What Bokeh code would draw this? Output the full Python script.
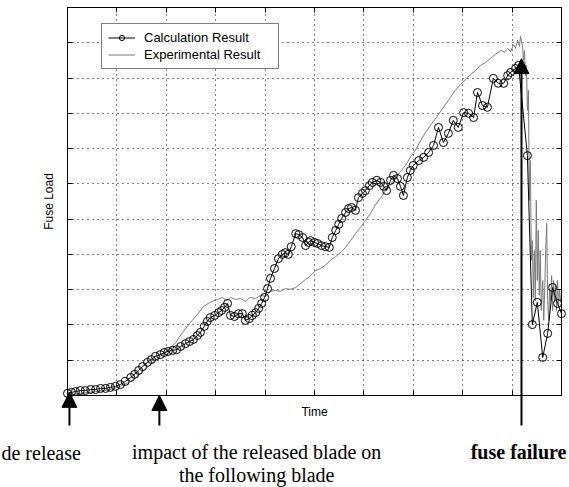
import math
from bokeh.plotting import figure
from bokeh.models import (Range1d, FixedTicker, LinearAxis, Grid, Label, Arrow, NormalHead,
                          Legend, LegendItem)
from bokeh.embed import file_html
from bokeh.resources import INLINE

# ---------------- data ----------------
time_calc = [0.00, 0.08, 0.16, 0.26, 0.36, 0.47, 0.57, 0.67, 0.77, 0.87, 0.97,
             1.07, 1.17, 1.28, 1.36, 1.44, 1.52, 1.62, 1.70, 1.78, 1.88, 1.96, 2.04, 2.13, 2.21,
             2.29, 2.39, 2.47, 2.55, 2.63, 2.69, 2.77, 2.83, 2.89, 2.98, 3.06, 3.12, 3.18, 3.24,
             3.30, 3.38, 3.46, 3.54, 3.60, 3.68, 3.74, 3.81, 3.87, 3.93, 3.99, 4.05, 4.11, 4.19,
             4.27, 4.35, 4.41, 4.47,
             4.53, 4.62, 4.68, 4.76, 4.82, 4.88, 4.92, 5.00, 5.06, 5.14, 5.22, 5.30, 5.36, 5.43,
             5.49, 5.55, 5.63, 5.69, 5.75,
             5.83, 5.89, 5.97, 6.03, 6.11, 6.17, 6.26, 6.34, 6.40, 6.46, 6.54, 6.60, 6.68, 6.74,
             6.80, 6.88, 6.94,
             7.00, 7.11, 7.21, 7.31, 7.41, 7.51, 7.61, 7.71, 7.81, 7.91, 8.02, 8.12, 8.22, 8.30,
             8.40, 8.50, 8.62, 8.72, 8.83, 8.91, 8.97, 9.07, 9.13,
             9.31, 9.41, 9.51, 9.62, 9.72, 9.82, 9.92, 10.00]
load_calc = [0.06, 0.09, 0.11, 0.14, 0.14, 0.17, 0.17, 0.20, 0.20, 0.23, 0.26,
             0.31, 0.40, 0.51, 0.60, 0.71, 0.82, 0.94, 1.02, 1.11, 1.16, 1.22, 1.25, 1.28, 1.30,
             1.39, 1.47, 1.53, 1.59, 1.70, 1.79, 1.96, 2.10, 2.21, 2.27, 2.35, 2.41, 2.50, 2.61,
             2.27, 2.24, 2.32, 2.32, 2.13, 2.18, 2.27, 2.35, 2.47, 2.61, 2.78, 3.03, 3.32, 3.60,
             3.88, 4.00, 4.05, 4.00,
             4.22, 4.59, 4.56, 4.48, 4.25, 4.34, 4.39, 4.34, 4.31, 4.25, 4.22, 4.20, 4.48, 4.68,
             4.85, 5.02, 5.19, 5.30, 5.33,
             5.25, 5.61, 5.73, 5.81, 5.95, 6.04, 6.10, 6.04, 5.93, 5.81, 6.10, 6.24, 6.15, 5.93,
             5.67, 6.18, 6.38,
             6.52, 6.66, 6.75, 6.89, 7.09, 7.60, 7.17, 7.43, 7.80, 7.60, 8.02, 8.00, 7.88, 8.59,
             8.22, 8.17, 8.99, 8.85, 8.85, 9.07, 9.16, 9.27, 9.36,
             6.80, 2.01, 2.64, 1.08, 1.76, 3.06, 2.61, 2.32]

time_exp = [0.00, 0.26, 0.57, 0.87, 1.07, 1.28, 1.48, 1.68, 1.88, 2.04, 2.19, 2.33, 2.49, 2.63,
            2.75, 2.85, 2.96, 3.04, 3.14, 3.22, 3.30, 3.40, 3.50, 3.60, 3.70, 3.81, 3.91, 4.01,
            4.11, 4.21, 4.31, 4.41, 4.51, 4.62, 4.72, 4.82, 4.92, 5.02, 5.12, 5.22, 5.32, 5.43,
            5.53, 5.63, 5.73, 5.83, 5.93, 6.03, 6.13, 6.23, 6.34, 6.44, 6.54, 6.64, 6.74, 6.84,
            6.94, 7.04, 7.15, 7.25, 7.35, 7.45, 7.55, 7.65, 7.75, 7.85, 7.96, 8.06, 8.16, 8.26,
            8.36, 8.46, 8.56, 8.66, 8.77, 8.85, 8.91, 8.97, 9.03, 9.07, 9.11, 9.15, 9.17, 9.21,
            9.23, 9.25, 9.27, 9.29, 9.31, 9.33, 9.35, 9.37, 9.39, 9.41, 9.43, 9.45, 9.47, 9.49,
            9.51, 9.53, 9.55, 9.57, 9.59, 9.62, 9.64, 9.66, 9.68, 9.70, 9.72, 9.74, 9.76, 9.78,
            9.80, 9.82, 9.84, 9.86, 9.88, 9.90, 9.92, 9.94, 9.96, 9.98, 10.00]
load_exp = [0.00, 0.06, 0.11, 0.17, 0.26, 0.40, 0.62, 0.88, 1.11, 1.28, 1.50, 1.79, 2.07, 2.30,
            2.52, 2.61, 2.69, 2.72, 2.78, 2.69, 2.78, 2.72, 2.75, 2.67, 2.78, 2.75, 2.84, 2.81,
            2.95, 2.98, 2.95, 3.03, 3.01, 3.06, 3.18, 3.29, 3.40, 3.54, 3.60, 3.69, 3.83, 3.94,
            4.05, 4.20, 4.39, 4.59, 4.76, 4.96, 5.16, 5.39, 5.61, 5.81, 5.98, 6.18, 6.35, 6.52,
            6.75, 6.95, 7.23, 7.46, 7.66, 7.85, 8.05, 8.25, 8.45, 8.65, 8.82, 8.96, 9.10, 9.21,
            9.36, 9.44, 9.55, 9.67, 9.78, 9.73, 9.84, 9.75, 9.95, 9.84, 10.07, 9.90, 10.18, 9.92,
            9.50, 9.78, 9.07, 9.36, 8.08, 8.65, 5.53, 6.66, 3.83, 4.39, 2.78, 4.11, 2.69, 5.53,
            3.26, 4.68, 2.84, 4.11, 2.41, 3.26, 2.13, 2.98, 4.11, 4.88, 2.69, 2.13, 2.98, 2.69,
            3.40, 2.41, 3.26, 2.69, 3.12, 2.41, 3.26, 2.55, 2.98, 2.69, 2.84]

x_ticks = [0, 1, 2, 3, 4, 5, 6, 7, 8, 9, 10]
y_ticks = [0, 1, 2, 3, 4, 5, 6, 7, 8, 9, 10, 11]

series_names = ["Calculation Result", "Experimental Result"]
axis_titles = ["Time", "Fuse Load"]
event_names = ["de release", "impact of the released blade on", "the following blade", "fuse failure"]
event_times = [0.04, 1.86, 9.19]
event_tips = [0.09, 0.0, 9.55]

assert len(time_calc) == len(load_calc)
assert len(time_exp) == len(load_exp)

X_MIN, X_MAX = x_ticks[0], x_ticks[-1]
Y_MIN, Y_MAX = y_ticks[0], y_ticks[-1]

# ---------------- figure (frame spans the whole canvas; the chart box is drawn by fixed axes) ----------------
p = figure(width=569, height=487, output_backend="svg", toolbar_location=None,
           x_range=Range1d(-1.356, 10.162), y_range=Range1d(-2.608, 11.198),
           x_axis_type=None, y_axis_type=None,
           min_border_left=0, min_border_right=0, min_border_top=0, min_border_bottom=0)
p.background_fill_color = "white"
p.border_fill_color = "white"
p.outline_line_color = None

def make_axis(loc, bounds, ticks):
    ax = LinearAxis(fixed_location=loc, bounds=bounds, ticker=FixedTicker(ticks=ticks))
    ax.major_tick_in = 5
    ax.major_tick_out = 0
    ax.minor_tick_in = 0
    ax.minor_tick_out = 0
    ax.major_tick_line_color = "black"
    ax.axis_line_color = "black"
    ax.axis_line_width = 1
    ax.major_label_text_font_size = "0px"
    ax.major_label_text_color = None
    ax.major_label_standoff = 0
    return ax

p.add_layout(make_axis(Y_MIN, (X_MIN, X_MAX), x_ticks), "below")
p.add_layout(make_axis(Y_MAX, (X_MIN, X_MAX), x_ticks), "above")
p.add_layout(make_axis(X_MIN, (Y_MIN, Y_MAX), y_ticks), "left")
p.add_layout(make_axis(X_MAX, (Y_MIN, Y_MAX), y_ticks), "right")

for dim, ticks, b, cb in [(0, x_ticks, (X_MIN, X_MAX), (Y_MIN, Y_MAX)),
                          (1, y_ticks, (Y_MIN, Y_MAX), (X_MIN, X_MAX))]:
    g = Grid(dimension=dim, ticker=FixedTicker(ticks=ticks), bounds=b, cross_bounds=cb)
    g.grid_line_color = "black"
    g.grid_line_dash = "1 4"
    g.grid_line_width = 1
    g.grid_line_alpha = 1
    p.add_layout(g)

# ---------------- data renderers ----------------
exp_line = p.line(time_exp, load_exp, line_color="#7a7a7a", line_width=1)
calc_line = p.line(time_calc, load_calc, line_color="black", line_width=1)
calc_pts = p.scatter(time_calc, load_calc, marker="circle", size=8,
                     fill_color=None, line_color="black", line_width=1)

legend = Legend(items=[LegendItem(label=series_names[0], renderers=[calc_line, calc_pts]),
                       LegendItem(label=series_names[1], renderers=[exp_line])],
                location=(101, 418))
legend.label_text_font = "Liberation Sans"
legend.label_text_font_size = "13px"
legend.label_text_color = "black"
legend.border_line_color = "black"
legend.border_line_width = 1
legend.background_fill_color = "white"
legend.background_fill_alpha = 1
legend.padding = 6
legend.spacing = 2
legend.margin = 0
legend.glyph_width = 27
legend.glyph_height = 13
legend.label_height = 13
legend.label_width = 128
legend.label_standoff = 9
p.add_layout(legend)

# ---------------- axis titles ----------------
sans = "Liberation Sans"
p.add_layout(Label(x=5.0, y=-0.48, text=axis_titles[0], text_align="center",
                   text_baseline="middle", text_font=sans, text_font_size="12px",
                   text_color="black"))
p.add_layout(Label(x=-0.37, y=5.5, text=axis_titles[1], text_align="center",
                   text_baseline="middle", text_font=sans, text_font_size="12px",
                   text_color="black", angle=math.pi / 2))

# ---------------- arrows and event annotations ----------------
for t, tip in zip(event_times, event_tips):
    p.add_layout(Arrow(end=NormalHead(size=15, fill_color="black", line_color="black"),
                       x_start=t, y_start=-0.85, x_end=t, y_end=tip,
                       line_color="black", line_width=2))

serif = "Liberation Serif"
p.add_layout(Label(x=-1.336, y=-1.62, text=event_names[0], text_align="left",
                   text_baseline="alphabetic", text_font=serif, text_font_size="20px",
                   text_color="black"))
p.add_layout(Label(x=3.83, y=-1.59, text=event_names[1], text_align="center",
                   text_baseline="alphabetic", text_font=serif, text_font_size="20px",
                   text_color="black"))
p.add_layout(Label(x=3.83, y=-2.24, text=event_names[2], text_align="center",
                   text_baseline="alphabetic", text_font=serif, text_font_size="20px",
                   text_color="black"))
p.add_layout(Label(x=10.10, y=-1.59, text=event_names[3], text_align="right",
                   text_baseline="alphabetic", text_font=serif, text_font_size="20px",
                   text_font_style="bold", text_color="black"))

open("out.html", "w").write(file_html(p, INLINE))
